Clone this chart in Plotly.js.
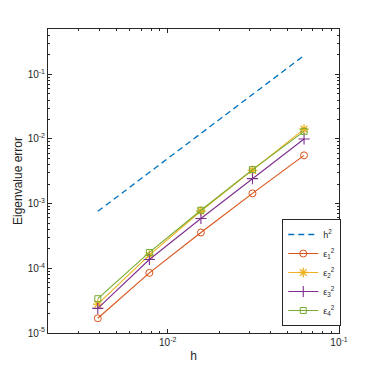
<!DOCTYPE html>
<html>
<head>
<meta charset="utf-8">
<script src="https://cdn.plot.ly/plotly-3.0.1.min.js"></script>
<style>
  html, body { margin: 0; padding: 0; background: #fff; }
  #chart { width: 374px; height: 374px; }
</style>
</head>
<body>
<div id="chart"></div>
<script>
// 網格尺寸 h
const hVals = [1/256, 1/128, 1/64, 1/32, 1/16];
// 參考線 h^2（乘常數）
const refVals = [7.6e-4, 3.05e-3, 1.22e-2, 4.88e-2, 0.195];
// 各特徵值誤差
const err1 = [1.69e-5, 8.5e-5, 3.58e-4, 1.44e-3, 5.58e-3];
const err2 = [2.8e-5, 1.6e-4, 7.7e-4, 3.27e-3, 1.42e-2];
const err3 = [2.4e-5, 1.37e-4, 5.9e-4, 2.44e-3, 1.0e-2];
const err4 = [3.39e-5, 1.76e-4, 7.9e-4, 3.36e-3, 1.31e-2];

const seriesNames = ['h<sup>2</sup>', 'ε<sub>1</sub><sup>2</sup>', 'ε<sub>2</sub><sup>2</sup>', 'ε<sub>3</sub><sup>2</sup>', 'ε<sub>4</sub><sup>2</sup>'];
const yTickVals = [1e-5, 1e-4, 1e-3, 1e-2, 1e-1];
const yTickText = ['10<sup>-5</sup>', '10<sup>-4</sup>', '10<sup>-3</sup>', '10<sup>-2</sup>', '10<sup>-1</sup>'];
const xTickVals = [1e-2, 1e-1];
const xTickText = ['10<sup>-2</sup>', '10<sup>-1</sup>'];

// 對數副刻度
function minorTicks(lo, hi) {
  const out = [];
  for (let e = lo; e < hi; e++) {
    for (let k = 2; k <= 9; k++) out.push(k * Math.pow(10, e));
  }
  return out;
}

const colors = ['#0072BD', '#D95319', '#EDB120', '#7E2F8E', '#77AC30'];

const traces = [
  {
    x: hVals, y: refVals, name: seriesNames[0], mode: 'lines', type: 'scatter',
    line: { color: colors[0], dash: '6px,4px', width: 1.3 }
  },
  {
    x: hVals, y: err1, name: seriesNames[1], mode: 'lines+markers', type: 'scatter',
    line: { color: colors[1], width: 1.1 },
    marker: { symbol: 'circle-open', size: 7, color: colors[1], line: { width: 1 } }
  },
  {
    x: hVals, y: err2, name: seriesNames[2], mode: 'lines+markers', type: 'scatter',
    line: { color: colors[2], width: 1.1 },
    marker: { symbol: 'asterisk-open', size: 8, color: colors[2], line: { width: 1.3, color: colors[2] } }
  },
  {
    x: hVals, y: err3, name: seriesNames[3], mode: 'lines+markers', type: 'scatter',
    line: { color: colors[3], width: 1.1 },
    marker: { symbol: 'cross-thin-open', size: 8, color: colors[3], line: { width: 1.1, color: colors[3] } }
  },
  {
    x: hVals, y: err4, name: seriesNames[4], mode: 'lines+markers', type: 'scatter',
    line: { color: colors[4], width: 1.1 },
    marker: { symbol: 'square-open', size: 6, color: colors[4], line: { width: 1 } }
  }
];

const axisCommon = {
  type: 'log',
  showgrid: false,
  zeroline: false,
  showline: true,
  linecolor: '#262626',
  linewidth: 1,
  mirror: 'ticks',
  ticks: 'inside',
  ticklen: 4,
  tickcolor: '#262626',
  tickfont: { family: 'Liberation Sans, Arial, sans-serif', size: 10, color: '#262626' },
  tickmode: 'array'
};

const layout = {
  width: 374,
  height: 374,
  margin: { l: 48, r: 35, t: 29, b: 41 },
  paper_bgcolor: '#fff',
  plot_bgcolor: '#fff',
  font: { family: 'Liberation Sans, Arial, sans-serif', color: '#262626' },
  xaxis: Object.assign({}, axisCommon, {
    range: [Math.log10(0.002), -1],
    tickvals: xTickVals,
    ticktext: xTickText,
    minor: { tickmode: 'array', tickvals: minorTicks(-3, -1), ticks: 'inside', ticklen: 2, tickcolor: '#262626', showgrid: false },
    title: { text: 'h', font: { size: 12 }, standoff: 4 }
  }),
  yaxis: Object.assign({}, axisCommon, {
    range: [-5, -0.3],
    tickvals: yTickVals,
    ticktext: yTickText,
    minor: { tickmode: 'array', tickvals: minorTicks(-5, 0), ticks: 'inside', ticklen: 2, tickcolor: '#262626', showgrid: false },
    title: { text: 'Eigenvalue error', font: { size: 12 }, standoff: 2 }
  }),
  legend: {
    x: 0.805, y: 0.375, xanchor: 'left', yanchor: 'top',
    bgcolor: '#fff', bordercolor: '#262626', borderwidth: 1,
    font: { size: 9 },
    itemwidth: 30,
    tracegroupgap: 0
  },
  showlegend: true
};

Plotly.newPlot('chart', traces, layout, { displayModeBar: false, staticPlot: true });
</script>
</body>
</html>
